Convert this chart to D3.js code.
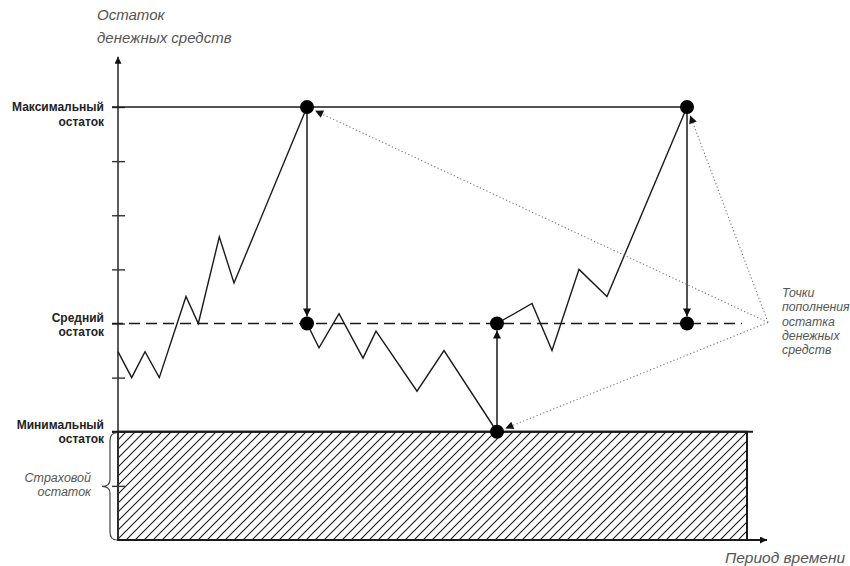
<!DOCTYPE html>
<html>
<head>
<meta charset="utf-8">
<script src="https://cdn.jsdelivr.net/npm/d3@7"></script>
<style>
  body { margin: 0; background: #fff; }
  text { font-family: Arial, "Liberation Sans", sans-serif; }
</style>
</head>
<body>
<div id="chart"></div>
<script>
// cash balance levels (in tick units) and the path of the balance over time
const yTicks = [1, 2, 3, 4, 5, 6, 7, 8];
const levels = { min: 2, mean: 4, max: 8 };
const levelLabels = [
  { v: 8, lines: ["Максимальный", "остаток"] },
  { v: 4, lines: ["Средний", "остаток"] },
  { v: 2, lines: ["Минимальный", "остаток"] }
];

// three stretches of the balance line, broken by the refills
const seg1 = [
  [0, 3.48], [1.37, 3.0], [2.7, 3.48], [4.13, 3.0], [6.8, 4.5],
  [8.03, 4.0], [10.13, 5.6], [11.6, 4.75], [18.9, 8]
];
const seg2 = [
  [18.9, 4], [20.1, 3.55], [22.1, 4.18], [24.5, 3.36], [25.8, 3.86],
  [29.9, 2.75], [32.6, 3.5], [37.9, 2]
];
const seg3 = [
  [37.9, 4], [41.4, 4.37], [43.4, 3.5], [46.1, 5.0], [48.9, 4.5], [56.9, 8]
];
const segments = [seg1, seg2, seg3];

// refill jumps (time, from, to)
const jumps = [
  { t: 18.9, from: 8, to: 4 },
  { t: 37.9, from: 2, to: 4 },
  { t: 56.9, from: 8, to: 4 }
];
const dots = [[18.9, 8], [18.9, 4], [37.9, 2], [37.9, 4], [56.9, 8], [56.9, 4]];
// points the callout "Точки пополнения..." refers to
const calloutTargets = [[18.9, 8], [56.9, 8], [37.9, 2]];
const calloutAnchor = [65, 4.02];

const tEnd = 62.9;       // end of the reserve area / mean line
const tAxisEnd = 64.9;   // x-axis arrow tip
const vAxisEnd = 8.93;   // y-axis arrow tip

const W = 850, H = 566;
const svg = d3.select("#chart").append("svg")
  .attr("width", W).attr("height", H);

const x = d3.scaleLinear().domain([0, 72]).range([118, 838]);
const y = d3.scaleLinear().domain([0, 8]).range([540, 107]);

const defs = svg.append("defs");
defs.append("pattern")
  .attr("id", "hatch")
  .attr("patternUnits", "userSpaceOnUse")
  .attr("width", 9).attr("height", 9)
  .append("path")
  .attr("d", "M-1,1 l2,-2 M0,9 l9,-9 M8,10 l2,-2")
  .attr("stroke", "#222").attr("stroke-width", 1.2);

function marker(id, color, w, h) {
  defs.append("marker")
    .attr("id", id)
    .attr("viewBox", "0 0 10 10")
    .attr("refX", 10).attr("refY", 5)
    .attr("markerUnits", "userSpaceOnUse")
    .attr("markerWidth", w).attr("markerHeight", h)
    .attr("orient", "auto")
    .append("path")
    .attr("d", "M0,0 L10,5 L0,10 Z")
    .attr("fill", color);
}
marker("arr", "#111", 9, 8);
marker("arrAxis", "#111", 9, 7);
marker("arrGray", "#111", 9, 8);

const ink = "#1a1a1a";

// reserve (hatched) area
svg.append("rect")
  .attr("x", x(0)).attr("y", y(levels.min))
  .attr("width", x(tEnd) - x(0))
  .attr("height", y(0) - y(levels.min))
  .attr("fill", "url(#hatch)")
  .attr("stroke", ink).attr("stroke-width", 2);

// axes
svg.append("line")
  .attr("x1", x(0)).attr("y1", y(0) + 1)
  .attr("x2", x(0)).attr("y2", y(vAxisEnd))
  .attr("stroke", "#333").attr("stroke-width", 1.6)
  .attr("marker-end", "url(#arrAxis)");
svg.append("line")
  .attr("x1", x(0)).attr("y1", y(0))
  .attr("x2", x(tAxisEnd)).attr("y2", y(0))
  .attr("stroke", ink).attr("stroke-width", 2)
  .attr("marker-end", "url(#arrAxis)");

const yAxis = svg.append("g")
  .attr("transform", `translate(${x(0)},0)`)
  .call(d3.axisLeft(y).tickValues(yTicks).tickSize(6).tickFormat(""));
yAxis.select(".domain").remove();
yAxis.selectAll(".tick line")
  .attr("x1", 7).attr("x2", -6)
  .attr("stroke", "#333").attr("stroke-width", 1.4);

// level lines
svg.append("line")
  .attr("x1", x(0) - 6).attr("y1", y(levels.max))
  .attr("x2", x(jumps[2].t)).attr("y2", y(levels.max))
  .attr("stroke", ink).attr("stroke-width", 1.5);
svg.append("line")
  .attr("x1", x(0) - 6).attr("y1", y(levels.mean))
  .attr("x2", x(tEnd) - 5).attr("y2", y(levels.mean))
  .attr("stroke", ink).attr("stroke-width", 1.5)
  .attr("stroke-dasharray", "11,6");
svg.append("line")
  .attr("x1", x(0) - 6).attr("y1", y(levels.min))
  .attr("x2", x(tEnd) + 6).attr("y2", y(levels.min))
  .attr("stroke", ink).attr("stroke-width", 2);

// balance line
const line = d3.line().x(d => x(d[0])).y(d => y(d[1]));
svg.selectAll(".seg")
  .data(segments)
  .enter()
  .append("path")
  .attr("class", "seg")
  .attr("d", line)
  .attr("fill", "none")
  .attr("stroke", ink).attr("stroke-width", 1.4)
  .attr("stroke-linejoin", "miter");

// refill arrows
const r = 7;
svg.selectAll(".jump")
  .data(jumps)
  .enter()
  .append("line")
  .attr("class", "jump")
  .attr("x1", d => x(d.t)).attr("x2", d => x(d.t))
  .attr("y1", d => y(d.from))
  .attr("y2", d => y(d.to) + (d.to < d.from ? -r : r))
  .attr("stroke", ink).attr("stroke-width", 1.5)
  .attr("marker-end", "url(#arr)");

// callout dotted lines
const ax = x(calloutAnchor[0]), ay = y(calloutAnchor[1]);
svg.selectAll(".callout")
  .data(calloutTargets)
  .enter()
  .append("line")
  .attr("class", "callout")
  .attr("x1", ax).attr("y1", ay)
  .attr("x2", d => {
    const dx = x(d[0]) - ax, dy = y(d[1]) - ay, L = Math.hypot(dx, dy);
    return x(d[0]) - dx / L * (r + 2);
  })
  .attr("y2", d => {
    const dx = x(d[0]) - ax, dy = y(d[1]) - ay, L = Math.hypot(dx, dy);
    return y(d[1]) - dy / L * (r + 2);
  })
  .attr("stroke", "#777").attr("stroke-width", 1.1)
  .attr("stroke-dasharray", "1.2,2.4")
  .attr("marker-end", "url(#arrGray)");

// refill points
svg.selectAll(".dot")
  .data(dots)
  .enter()
  .append("circle")
  .attr("class", "dot")
  .attr("cx", d => x(d[0])).attr("cy", d => y(d[1]))
  .attr("r", r)
  .attr("fill", "#000");

// left level labels
const labelShift = [4, -2, -3];
levelLabels.forEach((lab, i) => {
  const t = svg.append("text")
    .attr("x", 104)
    .attr("y", y(lab.v) + labelShift[i])
    .attr("text-anchor", "end")
    .attr("font-size", 12)
    .attr("font-weight", "bold")
    .attr("fill", "#222");
  lab.lines.forEach((s, j) => {
    t.append("tspan").attr("x", 104).attr("dy", j ? 14.5 : 0).text(s);
  });
});

// safety reserve brace + label
const bTop = y(levels.min) + 1, bBot = y(0), bMid = (bTop + bBot) / 2, bx = 110;
svg.append("path")
  .attr("d", `M${bx + 7},${bTop} Q${bx},${bTop} ${bx},${bTop + 8}
    L${bx},${bMid - 7} Q${bx},${bMid} ${bx - 8},${bMid}
    Q${bx},${bMid} ${bx},${bMid + 7} L${bx},${bBot - 8}
    Q${bx},${bBot} ${bx + 7},${bBot}`)
  .attr("fill", "none").attr("stroke", "#444").attr("stroke-width", 1.2);

const reserve = svg.append("text")
  .attr("text-anchor", "end")
  .attr("font-size", 12.5)
  .attr("font-style", "italic")
  .attr("fill", "#555");
reserve.append("tspan").attr("x", 91).attr("y", bMid - 4).text("Страховой");
reserve.append("tspan").attr("x", 91).attr("y", bMid + 10).text("остаток");

// axis titles
const yTitle = svg.append("text")
  .attr("font-size", 15)
  .attr("font-style", "italic")
  .attr("fill", "#555");
yTitle.append("tspan").attr("x", 97).attr("y", 20).text("Остаток");
yTitle.append("tspan").attr("x", 97).attr("y", 43).text("денежных средств");

svg.append("text")
  .attr("x", 785).attr("y", 563)
  .attr("text-anchor", "middle")
  .attr("font-size", 15.5)
  .attr("font-style", "italic")
  .attr("fill", "#555")
  .text("Период времени");

// callout text
const calloutLines = ["Точки", "пополнения", "остатка", "денежных", "средств"];
const co = svg.append("text")
  .attr("font-size", 12.3)
  .attr("font-style", "italic")
  .attr("fill", "#555");
calloutLines.forEach((s, i) => {
  co.append("tspan").attr("x", 782).attr("y", 297 + i * 14.3).text(s);
});
</script>
</body>
</html>
